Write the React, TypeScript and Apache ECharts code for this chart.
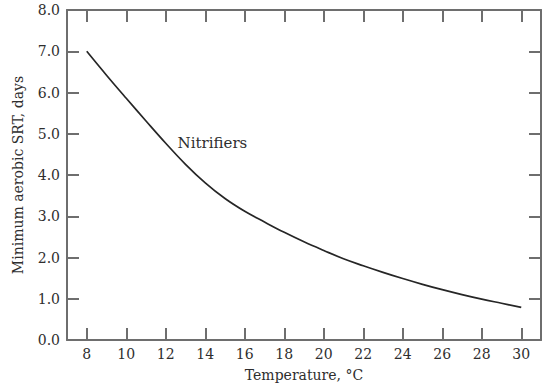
import React, { useEffect, useRef } from "react";
import * as echarts from "echarts";

const temperatures = [8, 9, 10, 11, 12, 13, 14, 15, 16, 17, 18, 19, 20, 21, 22, 23, 24, 25, 26, 27, 28, 29, 30];
const srtValues = [7.0, 6.42, 5.86, 5.31, 4.77, 4.26, 3.81, 3.43, 3.12, 2.86, 2.61, 2.38, 2.17, 1.97, 1.8, 1.64, 1.49, 1.35, 1.22, 1.1, 0.99, 0.89, 0.79];
const xTicks = [8, 10, 12, 14, 16, 18, 20, 22, 24, 26, 28, 30];
const seriesLabel = "Nitrifiers";
const labelPoint = [12.6, 4.78];

const FONT = "DejaVu Serif";
const AXIS_COLOR = "#6e6e6e";
const TEXT_COLOR = "#2e2e2e";

export default function App() {
  const ref = useRef<HTMLDivElement>(null);
  useEffect(() => {
    if (!ref.current) return;
    const chart = echarts.init(ref.current, null, { renderer: "svg" });
    const axisLine = { show: true, onZero: false, lineStyle: { color: AXIS_COLOR, width: 2 } };
    const tick = { show: true, inside: true, length: 12, lineStyle: { color: AXIS_COLOR, width: 2 } };
    const labelStyle = { fontFamily: FONT, fontSize: 14, color: TEXT_COLOR };
    chart.setOption({
      animation: false,
      backgroundColor: "#ffffff",
      grid: { left: 67, top: 10, right: 1, bottom: 49, containLabel: false },
      xAxis: [
        {
          type: "value",
          position: "bottom",
          min: 7,
          max: 31,
          axisLine,
          axisTick: { ...tick, customValues: xTicks },
          axisLabel: { ...labelStyle, margin: 7, customValues: xTicks, formatter: (v: number) => String(v) },
          splitLine: { show: false },
          name: "Temperature, °C",
          nameLocation: "middle",
          nameGap: 28,
          nameTextStyle: { ...labelStyle },
        },
        {
          type: "value",
          position: "top",
          min: 7,
          max: 31,
          axisLine,
          axisTick: { ...tick, customValues: xTicks },
          axisLabel: { show: false },
          splitLine: { show: false },
        },
      ],
      yAxis: [
        {
          type: "value",
          position: "left",
          min: 0,
          max: 8,
          interval: 1,
          axisLine,
          axisTick: tick,
          axisLabel: { ...labelStyle, margin: 7, formatter: (v: number) => v.toFixed(1) },
          splitLine: { show: false },
          name: "Minimum aerobic SRT, days",
          nameLocation: "middle",
          nameGap: 42,
          nameTextStyle: { ...labelStyle },
        },
        {
          type: "value",
          position: "right",
          min: 0,
          max: 8,
          interval: 1,
          axisLine,
          axisTick: tick,
          axisLabel: { show: false },
          splitLine: { show: false },
        },
      ],
      series: [
        {
          type: "line",
          xAxisIndex: 0,
          yAxisIndex: 0,
          data: temperatures.map((t, i) => [t, srtValues[i]]),
          smooth: 0.4,
          showSymbol: false,
          lineStyle: { color: "#262626", width: 1.7 },
          emphasis: { disabled: true },
        },
        {
          type: "scatter",
          xAxisIndex: 0,
          yAxisIndex: 0,
          data: [labelPoint],
          symbolSize: 0,
          itemStyle: { color: TEXT_COLOR, opacity: 1 },
          emphasis: { disabled: true },
          label: {
            show: true,
            position: "right",
            distance: 0,
            formatter: seriesLabel,
            fontFamily: FONT,
            fontSize: 15,
            color: TEXT_COLOR,
            opacity: 1,
          },
        },
      ],
    });
    return () => chart.dispose();
  }, []);
  return (
    <div
      ref={ref}
      style={{ position: "fixed", left: 0, top: 0, width: 542, height: 389, background: "#fff" }}
    />
  );
}
